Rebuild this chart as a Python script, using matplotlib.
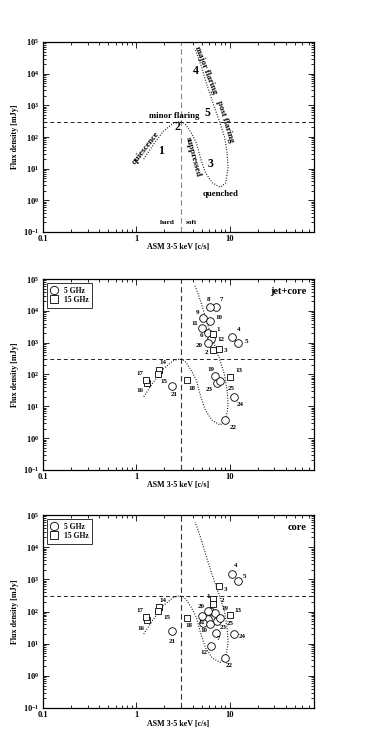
import matplotlib

matplotlib.use('Agg')
import matplotlib.pyplot as plt
from matplotlib.lines import Line2D
from matplotlib.ticker import FixedLocator, FuncFormatter, LogLocator, NullFormatter

plt.rcParams['font.family'] = ['Liberation Serif', 'DejaVu Serif']
plt.rcParams['font.weight'] = 'bold'
plt.rcParams['mathtext.fontset'] = 'custom'
plt.rcParams['mathtext.bf'] = 'Liberation Serif:bold'
plt.rcParams['mathtext.rm'] = 'Liberation Serif:bold'

# hand-drawn track through the ASM / radio plane
track_asm = [1.2, 1.5, 1.93, 2.47, 2.75, 2.95, 3.15, 3.4, 3.9, 4.4, 4.9, 5.5, 6.5,
             7.9, 9.1, 9.6, 9.4, 8.8, 7.8, 6.6, 5.6, 4.97, 4.5, 4.25]
track_flux = [20, 54, 148, 270, 298, 305, 290, 240, 130, 65, 20, 7.5, 3.6,
              2.6, 3.6, 11, 30, 100, 300, 1200, 5200, 1.7e4, 4e4, 6e4]

# numbered observations
src_ids = list(range(1, 26))
asm_rate = [6.6, 6.6, 7.6, 10.6, 12.2, 5.8, 7.1, 6.2, 5.15, 6.2, 5.0, 6.35, 10.0,
            1.74, 1.70, 1.30, 1.28, 3.5, 7.0, 5.9, 2.4, 9.0, 7.3, 11.0, 7.9]
ids_15ghz = [1, 2, 3, 13, 14, 15, 16, 17, 18]
flux_jetcore = [1850, 580, 640, 1550, 950, 2000, 13500, 13500, 6100, 4800, 2900, 1300, 81,
                140, 103, 56, 68, 66, 91, 960, 42, 3.6, 54, 20, 63]
flux_core = [240, 175, 620, 1500, 880, 60, 22, 105, 45, 40, 73, 8.3, 79,
             141, 101, 56, 68, 64, 88, 102, 24, 3.6, 50, 19.5, 62]
core_unlabelled = [6, 8, 9]

# label offsets in pixels (dx, dy up)
off_jetcore = {1: (5.7, 4.3), 2: (-6, -2.3), 3: (6.7, -2), 4: (6.7, 6.7), 5: (8.3, 2.3),
               6: (-6, -2.3), 7: (5, 7), 8: (-2, 6.7), 9: (-5.3, 5), 10: (8.3, 3.3),
               11: (-7.3, 4.3), 12: (9.3, 0), 13: (9, 7), 14: (4, 7.3), 15: (6, -7.3),
               16: (-6.7, -8.3), 17: (-6.3, 6), 18: (4.7, -8.3), 19: (-4.3, 6.7),
               20: (-8.7, -2.7), 21: (2, -8.3), 22: (8, -7.3), 23: (-7.3, -6),
               24: (6.7, -7.7), 25: (10.7, -7.3)}
off_core = {1: (-5, 3), 2: (10, 3), 3: (7.3, -3.3), 4: (3.7, 7.7), 5: (6.3, 4.3),
            7: (2.3, -6), 10: (-6, -5.7), 11: (0, -7), 12: (-7.3, -6.3), 13: (8.3, 4.7),
            14: (3.7, 6.7), 15: (8.7, -6.3), 16: (-6.3, -9.3), 17: (-6.7, 6.7),
            18: (1.3, -8), 19: (10, 4.7), 20: (-6.7, 5), 21: (0, -9.7), 22: (4, -7.7),
            23: (6, -6), 24: (8.7, -2.3), 25: (9.7, -5.3)}

PX = 0.72  # points per pixel at dpi 100


def y_fmt(v, pos):
    import math
    e = int(round(math.log10(v)))
    return r'$\mathbf{10^{%d}}$' % e


def x_fmt(v, pos):
    return {0.1: '0.1', 1: '1', 10: '10'}.get(round(v, 3), '')


def setup_axes(ax, vcolor='#333333'):
    ax.set_xscale('log')
    ax.set_yscale('log')
    ax.set_xlim(0.1, 80)
    ax.set_ylim(0.1, 1e5)
    ax.xaxis.set_major_locator(FixedLocator([0.1, 1, 10]))
    ax.xaxis.set_major_formatter(FuncFormatter(x_fmt))
    ax.xaxis.set_minor_locator(LogLocator(base=10, subs=range(2, 10), numticks=20))
    ax.xaxis.set_minor_formatter(NullFormatter())
    ax.yaxis.set_major_locator(LogLocator(base=10, numticks=10))
    ax.yaxis.set_major_formatter(FuncFormatter(y_fmt))
    ax.yaxis.set_minor_locator(LogLocator(base=10, subs=range(2, 10), numticks=20))
    ax.yaxis.set_minor_formatter(NullFormatter())
    ax.tick_params(which='both', direction='in', top=True, right=True, labelsize=6, width=0.6)
    ax.tick_params(which='major', length=4)
    ax.tick_params(which='minor', length=2)
    ax.tick_params(axis='x', which='major', pad=2)
    ax.tick_params(axis='y', which='major', pad=2.5)
    for s in ax.spines.values():
        s.set_linewidth(0.9)
    ax.set_xlabel('ASM 3-5 keV [c/s]', fontsize=5.8, fontweight='bold')
    ax.set_ylabel('Flux density [mJy]', fontsize=5.8, fontweight='bold')
    ax.xaxis.set_label_coords(0.5, -0.06)
    ax.yaxis.set_label_coords(-0.087, 0.5)
    ax.axvline(3, color=vcolor, ls=(0, (5, 3)), lw=0.8)
    ax.axhline(300, color='#222222', ls=(0, (4, 3)), lw=0.7)
    ax.plot(track_asm, track_flux, color='#111111', ls=(0, (0.8, 1.4)), lw=0.85)


def scatter_panel(ax, flux, offsets, tag, skip=()):
    for band, marker, ms in (('5', 'o', 5.5), ('15', 's', 4.8)):
        sel = [i for i in src_ids if (i in ids_15ghz) == (band == '15')]
        xs = [asm_rate[i - 1] for i in sel]
        ys = [flux[i - 1] for i in sel]
        ax.plot(xs, ys, ls='none', marker=marker, ms=ms, mfc='white', mec='black', mew=0.6,
                zorder=5)
    for i in src_ids:
        if i in skip:
            continue
        dx, dy = offsets[i]
        ax.annotate(str(i), (asm_rate[i - 1], flux[i - 1]), xytext=(dx * PX, dy * PX),
                    textcoords='offset points', ha='center', va='center', fontsize=5,
                    fontweight='bold', zorder=6)
    handles = [Line2D([], [], ls='none', marker='o', ms=6, mfc='white', mec='black', mew=0.6),
               Line2D([], [], ls='none', marker='s', ms=5.5, mfc='white', mec='black', mew=0.6)]
    leg = ax.legend(handles, ['5 GHz', '15 GHz'], loc='upper left', fontsize=5.5, frameon=True,
                    fancybox=False, edgecolor='black', borderaxespad=0.55, handletextpad=0.7,
                    labelspacing=0.2, borderpad=0.45, handlelength=1.0)
    leg.get_frame().set_linewidth(0.7)
    ax.text(0.972, 0.935, tag, transform=ax.transAxes, ha='right', va='center',
            fontsize=7.5, fontweight='bold')


fig = plt.figure(figsize=(3.88, 7.48), dpi=100)
W, H = 388, 748
ax1 = fig.add_axes([43 / W, 1 - 232 / H, 271 / W, 190 / H])
ax2 = fig.add_axes([43 / W, 1 - 470 / H, 271 / W, 191 / H])
ax3 = fig.add_axes([43 / W, 1 - 708 / H, 271 / W, 193 / H])

setup_axes(ax1, vcolor='#888888')
phase_text = [
    ('quiescence', 1.25, 45, 52, 6.3),
    ('1', 1.85, 37, 0, 8.5),
    ('minor flaring', 2.52, 460, 0, 6.3),
    ('2', 2.78, 213, 0, 8.5),
    ('suppressed', 4.0, 24, -75, 6.3),
    ('3', 6.2, 14, 0, 8.5),
    ('quenched', 8.0, 1.6, 0, 6.3),
    ('major flaring', 5.55, 1.3e4, -69, 6.3),
    ('4', 4.35, 1.25e4, 0, 8.5),
    ('5', 5.8, 590, 0, 8.5),
    ('post flaring', 8.85, 306, -73, 6.3),
    ('hard', 2.17, 0.2, 0, 5.2),
    ('soft', 3.85, 0.2, 0, 5.2),
]
for txt, x, y, rot, fs in phase_text:
    ax1.text(x, y, txt, rotation=rot, ha='center', va='center', fontsize=fs,
             fontweight='bold', rotation_mode='anchor')

setup_axes(ax2)
scatter_panel(ax2, flux_jetcore, off_jetcore, 'jet+core')

setup_axes(ax3)
scatter_panel(ax3, flux_core, off_core, 'core', skip=core_unlabelled)

fig.savefig('out.png', dpi=100)
